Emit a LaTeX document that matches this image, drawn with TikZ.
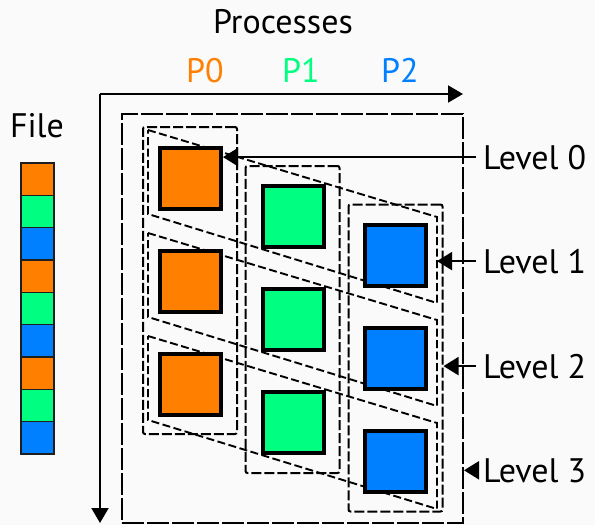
\documentclass[tikz,border=0pt]{standalone}
\usepackage{fontspec}
\setmainfont{PT Sans}
\usetikzlibrary{arrows.meta, positioning}
\definecolor{bggrey}{RGB}{250,250,250}
\definecolor{procorange}{RGB}{255,128,0}
\definecolor{procgreen}{RGB}{0,255,128}
\definecolor{procblue}{RGB}{0,128,255}
\definecolor{edgegrey}{RGB}{30,30,30}

\begin{document}
\begin{tikzpicture}[
  x=1pt, y=-1pt,
  font=\fontsize{34}{40}\selectfont,
  block/.style={rectangle, draw=black, line width=4pt,
              minimum width=61pt, minimum height=61pt, inner sep=0pt},
  cell/.style={rectangle, draw=edgegrey, line width=1.5pt,
              minimum width=33pt, minimum height=32.3pt, inner sep=0pt},
  colbox/.style={rectangle, rounded corners=2pt, draw=black,
              line width=2pt, dash pattern=on 10pt off 3pt,
              minimum width=94pt, minimum height=307pt},
  outerbox/.style={rectangle, draw=black, line width=2pt,
              dash pattern=on 22pt off 3pt,
              minimum width=341pt, minimum height=409pt},
  band/.style={line width=1.9pt, dash pattern=on 8pt off 3.5pt},
  axis/.style={line width=2pt, -{Triangle[length=15pt, width=17pt]}},
  arr/.style={line width=2pt, -{Triangle[length=15pt, width=18pt]}},
  lvl/.style={anchor=base west, inner xsep=7pt, inner ysep=0pt}
]

% ── Background / bounding box ──
\fill[bggrey] (0,0) rectangle (595,525);
\useasboundingbox (0,0) rectangle (595,525);

% ── Titles ──
\node[anchor=base] (title) at (283,33) {Processes};
\node[anchor=base, text=procorange] (p0) at (205,82) {P0};
\node[anchor=base, text=procgreen]  (p1) at (301,82) {P1};
\node[anchor=base, text=procblue]   (p2) at (400,82) {P2};
\node[anchor=base] (filelbl) at (37,137) {File};

% ── Axes ──
\coordinate (orig) at (100,94);
\coordinate (xend) at (463,94);
\coordinate (yend) at (100,523);
\draw[axis] (orig) -- (xend);
\draw[axis] (orig) -- (yend);

% ── File: striped column of 9 blocks ──
\node[cell, fill=procorange] (f1) at (37.5,179.2) {};
\node[cell, fill=procgreen]  (f2) at (37.5,211.5) {};
\node[cell, fill=procblue]   (f3) at (37.5,243.8) {};
\node[cell, fill=procorange] (f4) at (37.5,276.2) {};
\node[cell, fill=procgreen]  (f5) at (37.5,308.5) {};
\node[cell, fill=procblue]   (f6) at (37.5,340.8) {};
\node[cell, fill=procorange] (f7) at (37.5,373.2) {};
\node[cell, fill=procgreen]  (f8) at (37.5,405.5) {};
\node[cell, fill=procblue]   (f9) at (37.5,437.8) {};

% ── Outer box and process columns ──
\node[outerbox] (outer) at (292.5,318.5) {};
\node[colbox] (col0) at (190,280.5) {};
\node[colbox] (col1) at (292.5,319.5) {};
\node[colbox] (col2) at (395.5,358) {};

% ── Diagonal bands (one per stripe) ──
\coordinate (b0ne) at (437,217);
\draw[band] (148,130) -- (b0ne) -- (437,303) -- (148,214) -- cycle;
\draw[band] (148,233) -- (437,320) -- (437,406) -- (148,317) -- cycle;
\draw[band] (148,336) -- (437,423) -- (437,509) -- (148,420) -- cycle;

% ── Blocks: P0 / P1 / P2 ──
\node[block, fill=procorange] (sq00) at (190.5,178) {};
\node[block, fill=procorange] (sq01) at (190.5,281) {};
\node[block, fill=procorange] (sq02) at (190.5,384) {};
\node[block, fill=procgreen]  (sq10) at (293,216.5) {};
\node[block, fill=procgreen]  (sq11) at (293,319.5) {};
\node[block, fill=procgreen]  (sq12) at (293,422.5) {};
\node[block, fill=procblue]   (sq20) at (395.5,255) {};
\node[block, fill=procblue]   (sq21) at (395.5,358) {};
\node[block, fill=procblue]   (sq22) at (395.5,461) {};

% ── Level labels and pointers ──
\node[lvl] (lv0) at (476,169) {Level 0};
\node[lvl] (lv1) at (476,273) {Level 1};
\node[lvl] (lv2) at (476,378) {Level 2};
\node[lvl] (lv3) at (476,482) {Level 3};

\draw[arr] (lv0.west) -- (sq00.east |- lv0.west);
\draw[arr] (lv1.west) -- (b0ne |- lv1.west);
\draw[arr] (lv2.west) -- (col2.east |- lv2.west);
\draw[arr] (lv3.west) -- (outer.east |- lv3.west);

\end{tikzpicture}
\end{document}
